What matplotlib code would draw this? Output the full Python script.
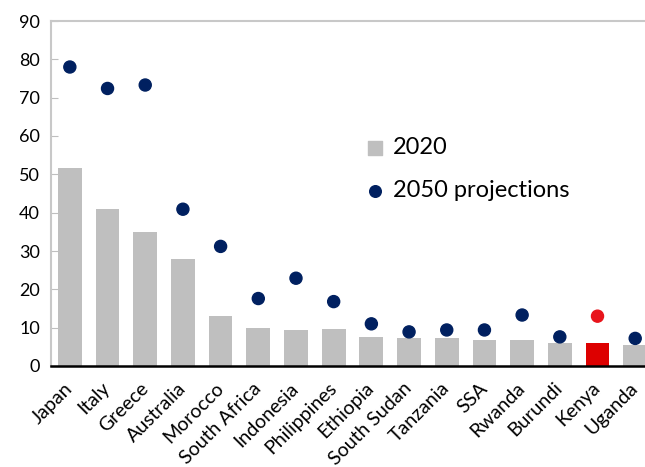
import numpy as np
import matplotlib.pyplot as plt

plt.rcParams['font.family'] = ['Lato', 'DejaVu Sans']

countries = ['Japan', 'Italy', 'Greece', 'Australia', 'Morocco', 'South Africa',
             'Indonesia', 'Philippines', 'Ethiopia', 'South Sudan', 'Tanzania',
             'SSA', 'Rwanda', 'Burundi', 'Kenya', 'Uganda']
values_2020 = [51.6, 40.9, 35.0, 27.9, 13.0, 9.8, 9.5, 9.7, 7.6, 7.3, 7.3,
               6.7, 6.8, 6.1, 6.0, 5.5]
values_2050 = [78.0, 72.4, 73.3, 40.9, 31.2, 17.6, 22.9, 16.8, 11.0, 8.9, 9.4,
               9.4, 13.3, 7.6, 13.0, 7.2]
highlight = 'Kenya'

x = np.arange(len(countries))
bar_colors = ['#DD0000' if c == highlight else '#BFBFBF' for c in countries]
dot_colors = ['#E8141B' if c == highlight else '#002060' for c in countries]

fig = plt.figure(figsize=(6.45, 4.67), dpi=100)
ax = fig.add_axes([51/645, 1-366/467, 1-51/645, (366-21)/467])

ax.bar(x, values_2020, width=0.63, color=bar_colors, zorder=2)
ax.scatter(x, values_2050, s=75, color=dot_colors, zorder=3)

# legend proxies
ax.scatter([], [], marker='s', s=110, color='#BFBFBF', label='2020')
ax.scatter([], [], s=70, color='#002060', label='2050 projections')
ax.legend(loc='upper left', bbox_to_anchor=(366/645, 1-137/467),
          bbox_transform=fig.transFigure, frameon=False, fontsize=17,
          handlelength=0.8, handletextpad=0.35, labelspacing=0.95,
          borderaxespad=0, borderpad=0)

ax.set_ylim(0, 90)
ax.set_xlim(-0.5, 15.26)
ax.set_yticks(range(0, 91, 10))
ax.set_xticks(x)
ax.set_xticklabels(countries, rotation=45, ha='right', va='center',
                   rotation_mode='anchor')
ax.tick_params(axis='y', direction='in', length=5, color='#BFBFBF',
               labelsize=13, pad=8)
ax.tick_params(axis='x', length=0, labelsize=14, pad=14)

ax.spines['right'].set_visible(False)
ax.spines['top'].set_color('#C8C8C8')
ax.spines['top'].set_linewidth(1.5)
ax.spines['left'].set_color('#C8C8C8')
ax.spines['left'].set_linewidth(1.5)
ax.spines['bottom'].set_color('black')
ax.spines['bottom'].set_linewidth(1.8)

plt.savefig('out.png', dpi=100)
